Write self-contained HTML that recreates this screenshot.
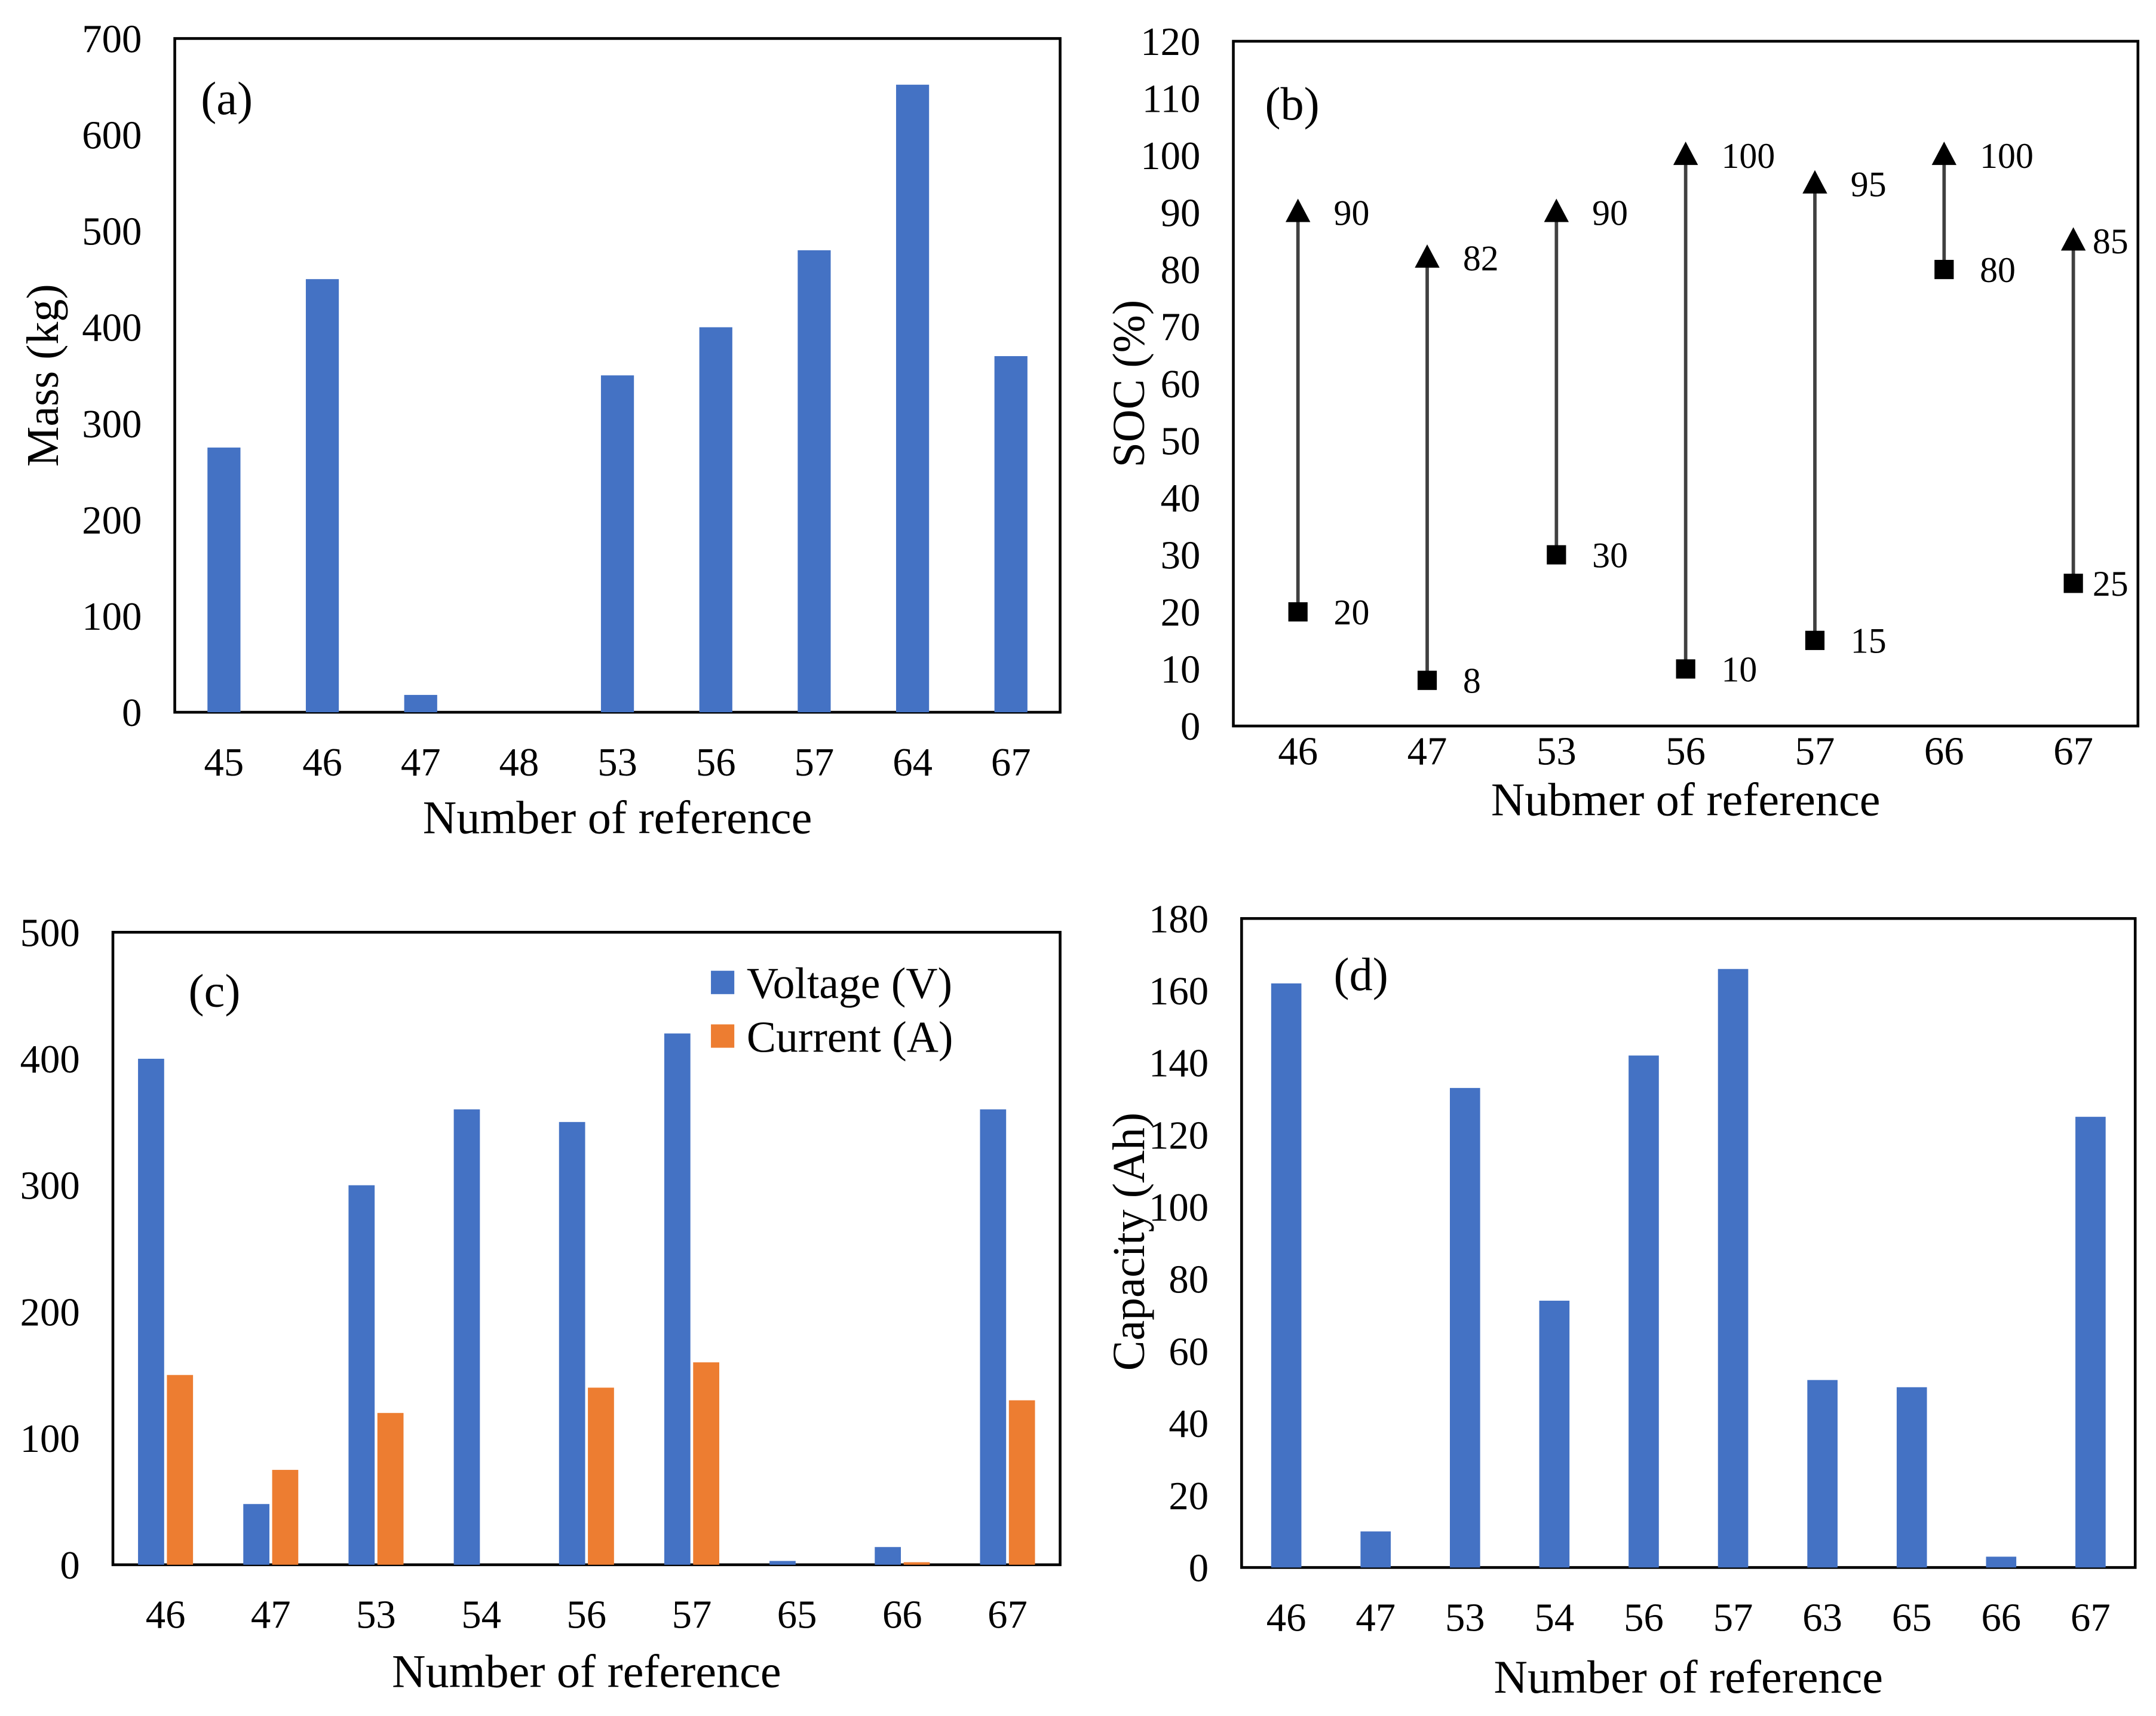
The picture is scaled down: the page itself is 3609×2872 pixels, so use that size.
<!DOCTYPE html>
<html><head><meta charset="utf-8"><style>
html,body{margin:0;padding:0;background:#fff}
svg{display:block}
text{font-family:"Liberation Serif",serif;fill:#000}
</style></head><body>
<svg id="fig" width="3609" height="2872" viewBox="0 0 1568 1248" xmlns="http://www.w3.org/2000/svg"></svg>
<script>
// Panel (a)
const aCats=["45","46","47","48","53","56","57","64","67"];
const aMass=[275,450,18,0,350,400,480,652,370];
const aTicks=[0,100,200,300,400,500,600,700];
// Panel (b)
const bCats=["46","47","53","56","57","66","67"];
const bLow=[20,8,30,10,15,80,25];
const bHigh=[90,82,90,100,95,100,85];
const bTicks=[0,10,20,30,40,50,60,70,80,90,100,110,120];
// Panel (c)
const cCats=["46","47","53","54","56","57","65","66","67"];
const cVoltage=[400,48,300,360,350,420,3,14,360];
const cCurrent=[150,75,120,0,140,160,0,2,130];
const cTicks=[0,100,200,300,400,500];
// Panel (d)
const dCats=["46","47","53","54","56","57","63","65","66","67"];
const dCap=[162,10,133,74,142,166,52,50,3,125];
const dTicks=[0,20,40,60,80,100,120,140,160,180];

const NS="http://www.w3.org/2000/svg";
const svg=document.getElementById('fig');
const BLUE="#4472C4",ORANGE="#ED7D31";
function mk(tag,attrs,parent,txt){const e=document.createElementNS(NS,tag);for(const k in attrs)e.setAttribute(k,attrs[k]);if(txt!==undefined)e.textContent=txt;(parent||svg).appendChild(e);return e;}

function panel(name,box,yMax,ticks,cats,xTitle,yTitle,yTitlePos,label,labelPos,xTitleY,xLabOff){
  const g=mk('g',{});
  
  
  const y=v=>box.y1-(v/yMax)*(box.y1-box.y0);
  const band=(box.x1-box.x0)/cats.length;
  const xc=i=>box.x0+band*(i+0.5);
  const r=mk('rect',{x:box.x0,y:box.y0,width:box.x1-box.x0,height:box.y1-box.y0,fill:'none',stroke:'#000','stroke-width':2},g);
  
  
  ticks.forEach(t=>{const e=mk('text',{x:box.x0-24,y:y(t)+10,'text-anchor':'end','font-size':29},g,String(t));
    
    });
  cats.forEach((c,i)=>{const e=mk('text',{x:xc(i),y:box.y1+xLabOff,'text-anchor':'middle','font-size':29},g,c);
    
    });
  const xt=mk('text',{x:(box.x0+box.x1)/2,y:xTitleY,'text-anchor':'middle','font-size':34},g,xTitle);
  
  
  if(yTitle){const yt=mk('text',{x:yTitlePos[0],y:yTitlePos[1],'text-anchor':'middle','font-size':33,transform:`rotate(-90 ${yTitlePos[0]} ${yTitlePos[1]})`},g,yTitle);
    
    }
  const lb=mk('text',{x:labelPos[0],y:labelPos[1],'font-size':34},g,label);
  
  
  return {g,y,xc,band};
}

// (a)
let A=panel('panel-a-mass',{x0:127,x1:771,y0:28,y1:518},700,aTicks,aCats,'Number of reference','Mass (kg)',[42,273],'(a)',[146,83],606,46);
aMass.forEach((v,i)=>{const b=mk('rect',{x:A.xc(i)-12,y:A.y(v),width:24,height:518-A.y(v),fill:BLUE},A.g);
  
  });

// (b)
let B=panel('panel-b-soc',{x0:897,x1:1555,y0:30,y1:528},120,bTicks,bCats,'Nubmer of reference','SOC (%)',[832,279],'(b)',[920,87],593,28);
bCats.forEach((c,i)=>{
  const x=B.xc(i),yl=B.y(bLow[i]),yh=B.y(bHigh[i]);
  const ln=mk('line',{x1:x,y1:yl,x2:x,y2:yh,stroke:'#404040','stroke-width':2.5},B.g);
  
  
  const sq=mk('rect',{x:x-7,y:yl-7,width:14,height:14,fill:'#000'},B.g);
  
  
  const tr=mk('polygon',{points:`${x},${yh-10} ${x-9},${yh+7} ${x+9},${yh+7}`,fill:'#000'},B.g);
  
  
  const off=(i===6)?14:26;
  const t1=mk('text',{x:x+off,y:yl+9,'font-size':26},B.g,String(bLow[i]));
  
  
  const t2=mk('text',{x:x+off,y:yh+9,'font-size':26},B.g,String(bHigh[i]));
  
  
});

// (c)
let C=panel('panel-c-voltage-current',{x0:82,x1:771,y0:678,y1:1138},500,cTicks,cCats,'Number of reference',null,null,'(c)',[137,732],1227,46);
cCats.forEach((c,i)=>{
  const x=C.xc(i);
  const v=mk('rect',{x:x-20,y:C.y(cVoltage[i]),width:19,height:1138-C.y(cVoltage[i]),fill:BLUE},C.g);
  
  
  const a=mk('rect',{x:x+1,y:C.y(cCurrent[i]),width:19,height:1138-C.y(cCurrent[i]),fill:ORANGE},C.g);
  
  
});
const lg=mk('g',{},C.g);


[[BLUE,'Voltage (V)',715],[ORANGE,'Current (A)',754]].forEach(([col,t,yy])=>{
  const e=mk('g',{},lg);
  
  
  mk('rect',{x:517,y:yy-9,width:17,height:17,fill:col},e);
  mk('text',{x:543,y:yy+11,'font-size':32},e,t);
});

// (d)
let D=panel('panel-d-capacity',{x0:903,x1:1553,y0:668,y1:1140},180,dTicks,dCats,'Number of reference','Capacity (Ah)',[832,903],'(d)',[970,720],1231,46);
dCap.forEach((v,i)=>{const b=mk('rect',{x:D.xc(i)-11,y:D.y(v),width:22,height:1140-D.y(v),fill:BLUE},D.g);
  
  });
</script>
</body></html>
